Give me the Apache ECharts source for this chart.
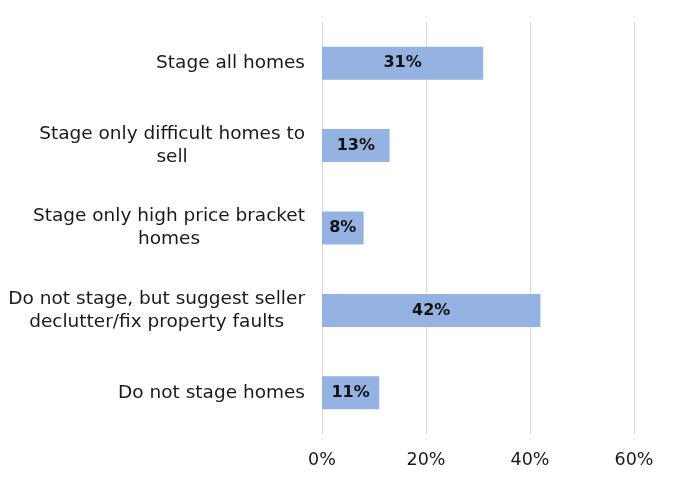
<!DOCTYPE html>
<html><head><meta charset="utf-8">
<script src="https://cdn.jsdelivr.net/npm/echarts@6/dist/echarts.min.js"></script>
<style>html,body{margin:0;padding:0;background:#fff}#c{width:686px;height:500px}</style>
</head><body><div id="c"></div>
<script>
const categories = [
  "Stage all homes",
  "Stage only difficult homes to\nsell",
  "Stage only high price bracket\nhomes",
  "Do not stage, but suggest seller\ndeclutter/fix property faults",
  "Do not stage homes"
];
const values = [31, 13, 8, 42, 11];
const xTicks = [0, 20, 40, 60];
const FONT = "'DejaVu Sans', sans-serif";
const chart = echarts.init(document.getElementById('c'), null, {renderer: 'canvas'});
chart.setOption({
  animation: false,
  grid: {left: 322, right: 52, top: 22, height: 412},
  xAxis: {
    type: 'value', min: xTicks[0], max: xTicks[xTicks.length - 1], interval: 20,
    axisLine: {show: false}, axisTick: {show: false},
    splitLine: {lineStyle: {color: '#d9d9d9', width: 1}},
    axisLabel: {formatter: '{value}%', color: '#1a1a1a', fontSize: 17.5, fontFamily: FONT, margin: 17}
  },
  yAxis: {
    type: 'category', inverse: true, data: categories,
    axisLine: {show: false}, axisTick: {show: false},
    axisLabel: {
      color: '#1a1a1a', fontSize: 18.5, fontFamily: FONT, margin: 17, align: 'right', lineHeight: 23,
      formatter: v => v.split('\n').map(s => '{c|' + s + '}').join('\n'),
      rich: {c: {align: 'center', color: '#1a1a1a', fontSize: 18.5, fontFamily: FONT, lineHeight: 23}}
    }
  },
  series: [{
    type: 'bar', data: values, barWidth: '40%',
    itemStyle: {color: '#94b3e2'},
    label: {show: true, position: 'inside', formatter: '{c}%', color: '#111', fontWeight: 'bold', fontSize: 16, fontFamily: FONT}
  }]
});
</script></body></html>
